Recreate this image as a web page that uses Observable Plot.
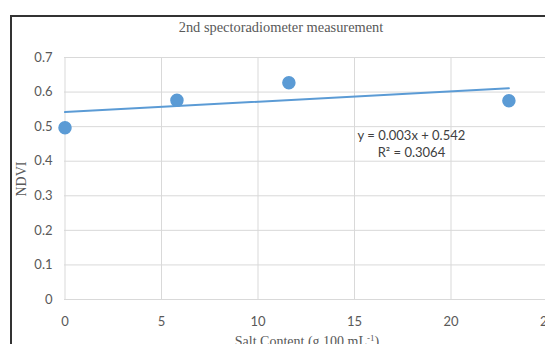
<!DOCTYPE html>
<html><head><meta charset="utf-8">
<script src="https://cdn.jsdelivr.net/npm/d3@7"></script>
<script src="https://cdn.jsdelivr.net/npm/@observablehq/plot@0.6"></script>
<style>
html,body{margin:0;padding:0;background:#fff;overflow:hidden;}
#wrap{position:relative;width:545px;height:344px;overflow:hidden;}
#frame{position:absolute;left:10px;top:15px;width:600px;height:400px;border-left:2px solid #333;border-top:2px solid #333;box-sizing:border-box;}
.lbl{position:absolute;font-family:"Liberation Serif",serif;color:#595959;white-space:nowrap;}
#title{left:281px;top:19px;font-size:14.4px;transform:translateX(-50%);}
#ylab{left:22px;top:179px;font-size:14px;transform:translate(-50%,-50%) rotate(-90deg);}
#xlab{left:307px;top:333px;font-size:14px;transform:translateX(-50%);}
#xlab sup{font-size:9px;vertical-align:5px;}
svg{position:absolute;left:0;top:0;}
</style></head>
<body>
<div id="wrap">
<div id="frame"></div>
<div id="title" class="lbl">2nd spectoradiometer measurement</div>
<div id="ylab" class="lbl">NDVI</div>
<div id="xlab" class="lbl">Salt Content (g 100 mL<sup>-1</sup>)</div>
</div>
<script>
const saltContent = [0, 5.8, 11.6, 23];
const ndvi = [0.497, 0.576, 0.627, 0.575];
const xTicks = [0, 5, 10, 15, 20, 25];
const yTicks = [0, 0.1, 0.2, 0.3, 0.4, 0.5, 0.6, 0.7];
const trendSlope = 0.003, trendIntercept = 0.542;
const trendX = [0, 23];
const eqText = ["y = 0.003x + 0.542", "R² = 0.3064"];
const eqX = [17.95, 17.95];
const eqY = [0.474, 0.425];

const points = saltContent.map((x, i) => ({x, y: ndvi[i]}));
const trend = trendX.map(x => ({x, y: trendIntercept + trendSlope * x}));
const eq = eqText.map((t, i) => ({t, x: eqX[i], y: eqY[i]}));

const blue = "#5b9bd5";
const chart = Plot.plot({
  width: 545, height: 344,
  marginLeft: 64, marginTop: 57, marginBottom: 45, marginRight: 0,
  x: {domain: [0, 25], range: [64.5, 547]},
  y: {domain: [0, 0.7], range: [299, 57]},
  style: {fontFamily: "Lato, sans-serif", fontSize: "13px", color: "#595959", background: "transparent"},
  marks: [
    Plot.gridX(xTicks, {stroke: "#d9d9d9", strokeOpacity: 1}),
    Plot.gridY(yTicks, {stroke: "#d9d9d9", strokeOpacity: 1}),
    Plot.axisX(xTicks, {tickSize: 0, tickPadding: 17, label: null, fill: "#595959"}),
    Plot.axisY(yTicks, {tickSize: 0, tickPadding: 12, label: null, fill: "#595959",
      tickFormat: d => d === 0 ? "0" : d.toFixed(1)}),
    Plot.line(trend, {x: "x", y: "y", stroke: blue, strokeWidth: 2}),
    Plot.dot(points, {x: "x", y: "y", r: 6, fill: blue, stroke: blue}),
    Plot.text(eq, {x: "x", y: "y", text: "t", fill: "#404040", fontSize: 13})
  ]
});
document.getElementById("wrap").appendChild(chart);
</script>
</body></html>
